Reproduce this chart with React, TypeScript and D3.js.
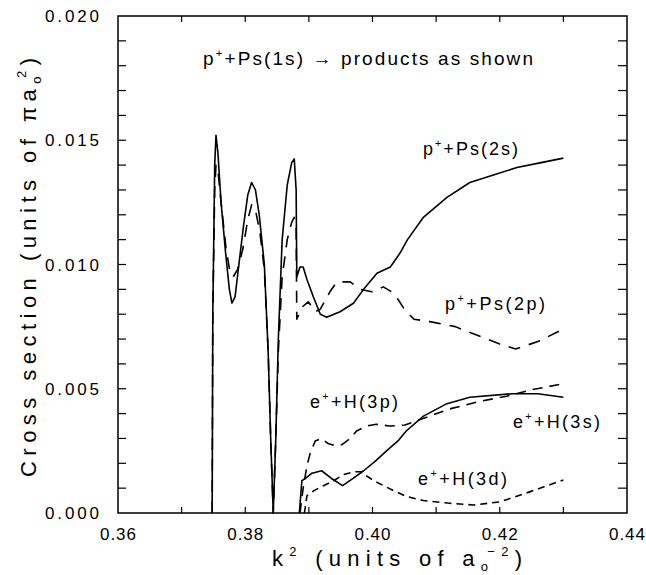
import React, { useEffect, useRef } from 'react';
import * as d3 from 'd3';

// p+ + Ps(1s) -> products, cross sections vs k^2
const ps2s: [number, number][] = [
  [0.3748, 0], [0.3749, 0.008], [0.3752, 0.014], [0.3754, 0.0152], [0.3757, 0.0145],
  [0.3762, 0.0125], [0.3769, 0.0105], [0.3775, 0.009], [0.3779, 0.00845], [0.3784, 0.0087],
  [0.379, 0.01], [0.3797, 0.0115], [0.3804, 0.0128], [0.381, 0.0133], [0.3816, 0.013],
  [0.3822, 0.012], [0.383, 0.01], [0.3836, 0.0065], [0.384, 0.003], [0.3844, 0],
  [0.3848, 0.003], [0.3852, 0.007], [0.3858, 0.011], [0.3866, 0.0132], [0.3873, 0.0141],
  [0.3877, 0.01425], [0.388, 0.013], [0.3881, 0.0095], [0.3886, 0.0099], [0.3891, 0.0099],
  [0.3897, 0.0094], [0.3907, 0.0087], [0.3918, 0.008], [0.3928, 0.00788], [0.3949, 0.0081],
  [0.397, 0.00844], [0.3986, 0.009], [0.4007, 0.00965], [0.4028, 0.0099], [0.4043, 0.01045],
  [0.4055, 0.0110], [0.408, 0.0119], [0.4117, 0.0127], [0.4153, 0.0133], [0.419, 0.0136],
  [0.4227, 0.0139], [0.4265, 0.0141], [0.43, 0.01428],
];

const ps2p: [number, number][] = [
  [0.3748, 0], [0.3749, 0.008], [0.3752, 0.013], [0.3754, 0.014], [0.3757, 0.0138],
  [0.3762, 0.0125], [0.377, 0.0106], [0.3776, 0.0097], [0.3781, 0.0095], [0.3788, 0.0098],
  [0.3796, 0.0106], [0.3804, 0.0118], [0.381, 0.0124], [0.3816, 0.0122], [0.3823, 0.0113],
  [0.383, 0.0098], [0.3836, 0.0065], [0.384, 0.003], [0.3844, 0], [0.3848, 0.003],
  [0.3852, 0.0065], [0.3858, 0.0095], [0.3866, 0.011], [0.3873, 0.0117], [0.3877, 0.0119],
  [0.388, 0.0115], [0.3881, 0.0078], [0.389, 0.0083], [0.3899, 0.0085], [0.391, 0.0081],
  [0.3918, 0.0082], [0.3933, 0.0089], [0.3944, 0.0093], [0.3965, 0.0093], [0.3981, 0.009],
  [0.3999, 0.0089], [0.4017, 0.0091], [0.403, 0.0089], [0.404, 0.0086], [0.405, 0.0082],
  [0.4065, 0.0078], [0.409, 0.0077], [0.413, 0.0075], [0.417, 0.0071], [0.42, 0.0068],
  [0.4225, 0.0066], [0.426, 0.0069], [0.43, 0.0074],
];

const h3s: [number, number][] = [
  [0.3885, 0], [0.3889, 0.0013], [0.3895, 0.0014], [0.3905, 0.0016], [0.392, 0.0017],
  [0.3935, 0.0014], [0.3953, 0.0011], [0.397, 0.0014], [0.3986, 0.0017], [0.4005, 0.0021],
  [0.4022, 0.0025], [0.404, 0.0029], [0.4053, 0.0033], [0.408, 0.0039], [0.4117, 0.0044],
  [0.4153, 0.00466], [0.422, 0.0048], [0.426, 0.0048], [0.43, 0.00466],
];

const h3p: [number, number][] = [
  [0.3886, 0], [0.3891, 0.001], [0.3897, 0.0019], [0.3902, 0.0024], [0.391, 0.0029],
  [0.392, 0.003], [0.393, 0.0028], [0.394, 0.00272], [0.3952, 0.00275], [0.3965, 0.003],
  [0.3975, 0.0033], [0.3991, 0.0035], [0.4006, 0.00357], [0.4027, 0.0035], [0.4051, 0.00354],
  [0.409, 0.0039], [0.4123, 0.0042], [0.417, 0.0045], [0.4211, 0.0047], [0.4248, 0.00495],
  [0.43, 0.0052],
];

const h3d: [number, number][] = [
  [0.3893, 0], [0.3897, 0.0007], [0.3908, 0.0009], [0.3923, 0.0011], [0.3939, 0.0013],
  [0.3955, 0.00155], [0.3971, 0.00166], [0.3981, 0.00166], [0.4002, 0.0013], [0.4033, 0.0009],
  [0.4054, 0.00066], [0.408, 0.0005], [0.4118, 0.0004], [0.4159, 0.00032], [0.4201, 0.00045],
  [0.4248, 0.00086], [0.43, 0.00133],
];

const xTickLabels = ['0.36', '0.38', '0.40', '0.42', '0.44'];
const yTickLabels = ['0.000', '0.005', '0.010', '0.015', '0.020'];

const W = 646;
const H = 575;
const margin = { top: 16, right: 19, bottom: 62, left: 118 };
const font = '"Liberation Sans", Arial, sans-serif';

export default function App() {
  const svgRef = useRef<SVGSVGElement>(null);

  useEffect(() => {
    document.body.style.margin = '0';
    const svg = d3.select(svgRef.current);
    svg.selectAll('*').remove();

    const x = d3.scaleLinear().domain([0.36, 0.44]).range([margin.left, W - margin.right]);
    const y = d3.scaleLinear().domain([0, 0.02]).range([H - margin.bottom, margin.top]);
    const [x0, x1] = x.range();
    const [y0, y1] = y.range();

    const g = svg.append('g');

    // frame
    g.append('rect')
      .attr('x', x0).attr('y', y1)
      .attr('width', x1 - x0).attr('height', y0 - y1)
      .attr('fill', 'none').attr('stroke', '#000').attr('stroke-width', 1.5);

    // inward ticks on all sides
    const xMinor = d3.range(0.37, 0.435, 0.01);
    xMinor.forEach(v => {
      g.append('line').attr('x1', x(v)).attr('x2', x(v)).attr('y1', y0).attr('y2', y0 - 6)
        .attr('stroke', '#000').attr('stroke-width', 1.2);
      g.append('line').attr('x1', x(v)).attr('x2', x(v)).attr('y1', y1).attr('y2', y1 + 6)
        .attr('stroke', '#000').attr('stroke-width', 1.2);
    });
    const yMinor = d3.range(1, 20).map(i => i * 0.001);
    yMinor.forEach(v => {
      g.append('line').attr('x1', x0).attr('x2', x0 + 8).attr('y1', y(v)).attr('y2', y(v))
        .attr('stroke', '#000').attr('stroke-width', 1.2);
      g.append('line').attr('x1', x1).attr('x2', x1 - 9).attr('y1', y(v)).attr('y2', y(v))
        .attr('stroke', '#000').attr('stroke-width', 1.2);
    });

    // tick labels
    xTickLabels.forEach(t => {
      g.append('text').attr('x', x(+t) - 18).attr('y', 540)
        .attr('font-family', font).attr('font-size', 17)
        .attr('textLength', 36).attr('lengthAdjust', 'spacing').text(t);
    });
    yTickLabels.forEach(t => {
      g.append('text').attr('x', 45).attr('y', y(+t) + 6)
        .attr('font-family', font).attr('font-size', 17)
        .attr('textLength', 54).attr('lengthAdjust', 'spacing').text(t);
    });

    // curves
    const line = d3.line<[number, number]>().x(d => x(d[0])).y(d => y(d[1]));
    const series: { data: [number, number][]; dash: string | null }[] = [
      { data: ps2s, dash: null },
      { data: ps2p, dash: '12,9' },
      { data: h3s, dash: null },
      { data: h3p, dash: '10,7' },
      { data: h3d, dash: '7,5' },
    ];
    series.forEach(s => {
      g.append('path').attr('d', line(s.data))
        .attr('fill', 'none').attr('stroke', '#000').attr('stroke-width', 1.6)
        .attr('stroke-linejoin', 'round')
        .attr('stroke-dasharray', s.dash);
    });

    // labels with superscript +
    const label = (px: number, py: number, len: number, a: string, b: string, size: number) => {
      const t = g.append('text').attr('x', px).attr('y', py)
        .attr('font-family', font).attr('font-size', size)
        .attr('textLength', len).attr('lengthAdjust', 'spacing');
      t.append('tspan').text(a);
      t.append('tspan').attr('dy', -8).attr('font-size', size * 0.6).text('+');
      t.append('tspan').attr('dy', 8).text(b);
    };
    label(203, 65, 330, 'p', '+Ps(1s)  \u2192  products  as  shown', 19);
    label(423, 155, 95, 'p', '+Ps(2s)', 18);
    label(445, 310, 100, 'p', '+Ps(2p)', 18);
    label(310, 408, 88, 'e', '+H(3p)', 18);
    label(513, 428, 87, 'e', '+H(3s)', 18);
    label(418, 485, 89, 'e', '+H(3d)', 18);

    // y axis title
    const yt = g.append('text')
      .attr('transform', `translate(36,${268}) rotate(-90)`)
      .attr('x', -209).attr('y', 0)
      .attr('font-family', font).attr('font-size', 22)
      .attr('textLength', 419).attr('lengthAdjust', 'spacing');
    yt.append('tspan').text('Cross section (units of \u03c0a');
    yt.append('tspan').attr('dy', 5).attr('font-size', 13).text('o');
    yt.append('tspan').attr('dx', -7).attr('dy', -15).attr('font-size', 13).text('2');
    yt.append('tspan').attr('dy', 10).text(')');

    // x axis title
    const xt = g.append('text')
      .attr('x', 272).attr('y', 566)
      .attr('font-family', font).attr('font-size', 22)
      .attr('textLength', 250).attr('lengthAdjust', 'spacing');
    xt.append('tspan').text('k');
    xt.append('tspan').attr('dy', -10).attr('font-size', 13).text('2');
    xt.append('tspan').attr('dy', 10).text(' (units of a');
    xt.append('tspan').attr('dy', 5).attr('font-size', 13).text('o');
    xt.append('tspan').attr('dx', -7).attr('dy', -15).attr('font-size', 13).text('\u22122');
    xt.append('tspan').attr('dy', 10).text(')');
  }, []);

  return <svg ref={svgRef} width={W} height={H} style={{ display: 'block', background: '#fff' }} />;
}
